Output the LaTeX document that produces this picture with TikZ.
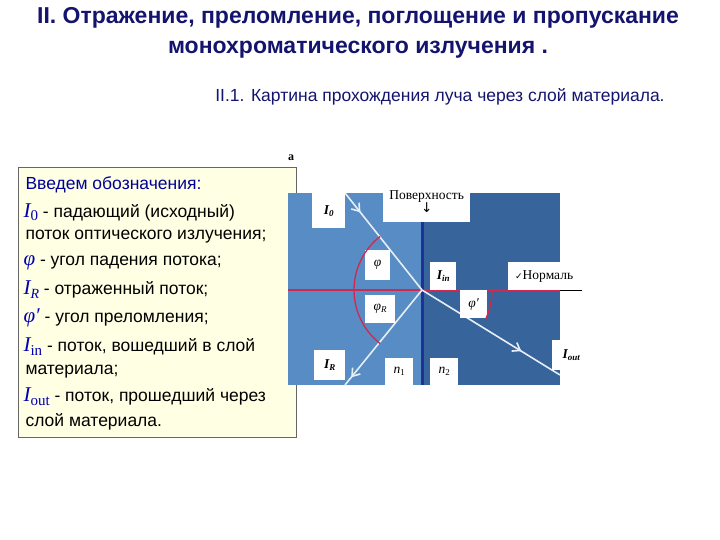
\documentclass[tikz,border=0pt]{standalone}
\usepackage{fontspec}
\setmainfont{Liberation Sans}
\newfontfamily\serif{Liberation Serif}
\newfontfamily\dejavu{DejaVu Sans}
\usetikzlibrary{decorations.markings,arrows.meta}
\definecolor{navy}{RGB}{20,20,110}
\definecolor{lblue}{RGB}{88,140,196}
\definecolor{dblue}{RGB}{55,100,155}
\definecolor{surf}{RGB}{30,50,150}
\definecolor{nred}{RGB}{210,40,80}
\definecolor{ybox}{RGB}{255,255,228}
\newcommand\mymth{\serif\itshape\fontsize{21}{20}\selectfont\color{blue!70!black}}
\begin{document}
\begin{tikzpicture}[x=1pt,y=-1pt,
  lbl/.style={draw=none,fill=white,inner sep=1pt,font=\serif\fontsize{13.5}{15}\selectfont,anchor=north west,minimum width=#1},
  lbl/.default=28pt,
  ray/.style={draw=white!85!lblue,line width=1.6pt,postaction={decorate},decoration={markings,mark=at position #1 with {\arrow{Straight Barb[length=7pt,width=10pt]}}}},
  txt/.style={anchor=west,font=\fontsize{17.5}{20}\selectfont}]
\useasboundingbox (0,0) rectangle (720,540);
\node[font=\bfseries\fontsize{23}{26}\selectfont,text=navy] (t1) at (358,18) {II. Отражение, преломление, поглощение и пропускание};
\node[font=\bfseries\fontsize{23}{26}\selectfont,text=navy] (t2) at (358,50) {монохроматического излучения .};
\node[font=\fontsize{17.5}{20}\selectfont,text=navy] (t3) at (440,97) {II.1. Картина прохождения луча через слой материала.};
% left box
\node[draw=black!60,fill=ybox,minimum width=278pt,minimum height=270pt,anchor=north west,inner sep=0] (box) at (18,167) {};
\node[txt,text=blue!60!black] (l1) at (22,185) {Введем обозначения:};
\node[txt] (l2) at (20,212) {{\mymth I\raisebox{-3pt}{\fontsize{15}{14}\selectfont\upshape 0}} - падающий (исходный)};
\node[txt] (l3) at (22,237) {поток оптического излучения;};
\node[txt] (l4) at (20,263) {{\mymth φ} - угол падения потока;};
\node[txt] (l5) at (20,290) {{\mymth I\raisebox{-4pt}{\fontsize{14}{14}\selectfont R}} - отраженный поток;};
\node[txt] (l6) at (20,318) {{\mymth φ′} - угол преломления;};
\node[txt] (l7) at (20,347) {{\mymth I\raisebox{-4pt}{\upshape\fontsize{15}{14}\selectfont in}} - поток, вошедший в слой};
\node[txt] (l8) at (22,372) {материала;};
\node[txt] (l9) at (20,397) {{\mymth I\raisebox{-4pt}{\upshape\fontsize{15}{14}\selectfont out}} - поток, прошедший через};
\node[txt] (l10) at (22,422) {слой материала.};
% diagram
\fill[lblue] (288,193) rectangle (422,385);
\fill[dblue] (422,193) rectangle (560,385);
\node[font=\serif\bfseries\fontsize{12}{12}\selectfont] (a) at (291,158) {а};
\coordinate (O) at (422,290);
\coordinate (L) at (288,290);
\coordinate (R) at (560,290);
\draw[nred,line width=1.2pt] (L) -- (R);
\draw[black,line width=0.6pt] (560,290) -- (582,290);
\draw[surf,line width=3pt] (422,193) -- (422,385);
\coordinate (S) at (345,193);
\coordinate (E) at (560,375);
\coordinate (Rf) at (345,385);
\draw[ray=0.2] (S) -- (O);
\draw[ray=0.72] (O) -- (E);
\draw[ray=0.92] (O) -- (Rf);
% labels
\node[lbl=33pt,minimum height=35pt] (i0) at (312,193) {\bfseries\itshape I\raisebox{-2pt}{\fontsize{9}{9}\selectfont 0}};
\node[lbl=87pt,minimum height=42pt,align=center] (pov) at (383,180) {Поверхность\\[-2pt]{\dejavu ↓}};
\node[lbl=25pt,minimum height=30pt] (phi) at (365,250) {\itshape φ};
\node[lbl=26pt,minimum height=28pt] (iin) at (430,262) {\bfseries\itshape I\raisebox{-2pt}{\fontsize{9}{9}\selectfont in}};
\node[lbl=72pt,minimum height=28pt] (norm) at (508,262) {{\dejavu\fontsize{9}{9}\selectfont ✓}Нормаль};
\node[lbl=30pt,minimum height=28pt] (phir) at (365,295) {\itshape φ\raisebox{-2pt}{\fontsize{9}{9}\selectfont R}};
\node[lbl=27pt,minimum height=28pt] (phip) at (460,290) {\itshape φ′};
\node[lbl=31pt,minimum height=30pt] (ir) at (314,350) {\bfseries\itshape I\raisebox{-2pt}{\fontsize{9}{9}\selectfont R}};
\node[lbl=28pt,minimum height=27pt] (n1) at (385,358) {\itshape n\raisebox{-2pt}{\fontsize{9}{9}\selectfont\upshape 1}};
\node[lbl=28pt,minimum height=27pt] (n2) at (430,358) {\itshape n\raisebox{-2pt}{\fontsize{9}{9}\selectfont\upshape 2}};
\node[lbl=38pt,minimum height=30pt] (iout) at (552,340) {\bfseries\itshape I\raisebox{-2pt}{\fontsize{9}{9}\selectfont out}};
% arcs
\draw[nred,line width=1.3pt] ([shift={(128:68)}]O) arc[start angle=128,end angle=232,radius=68];
\draw[nred,line width=1.3pt] ([shift={(0:70)}]O) arc[start angle=0,end angle=24,radius=70];
\end{tikzpicture}
\end{document}
